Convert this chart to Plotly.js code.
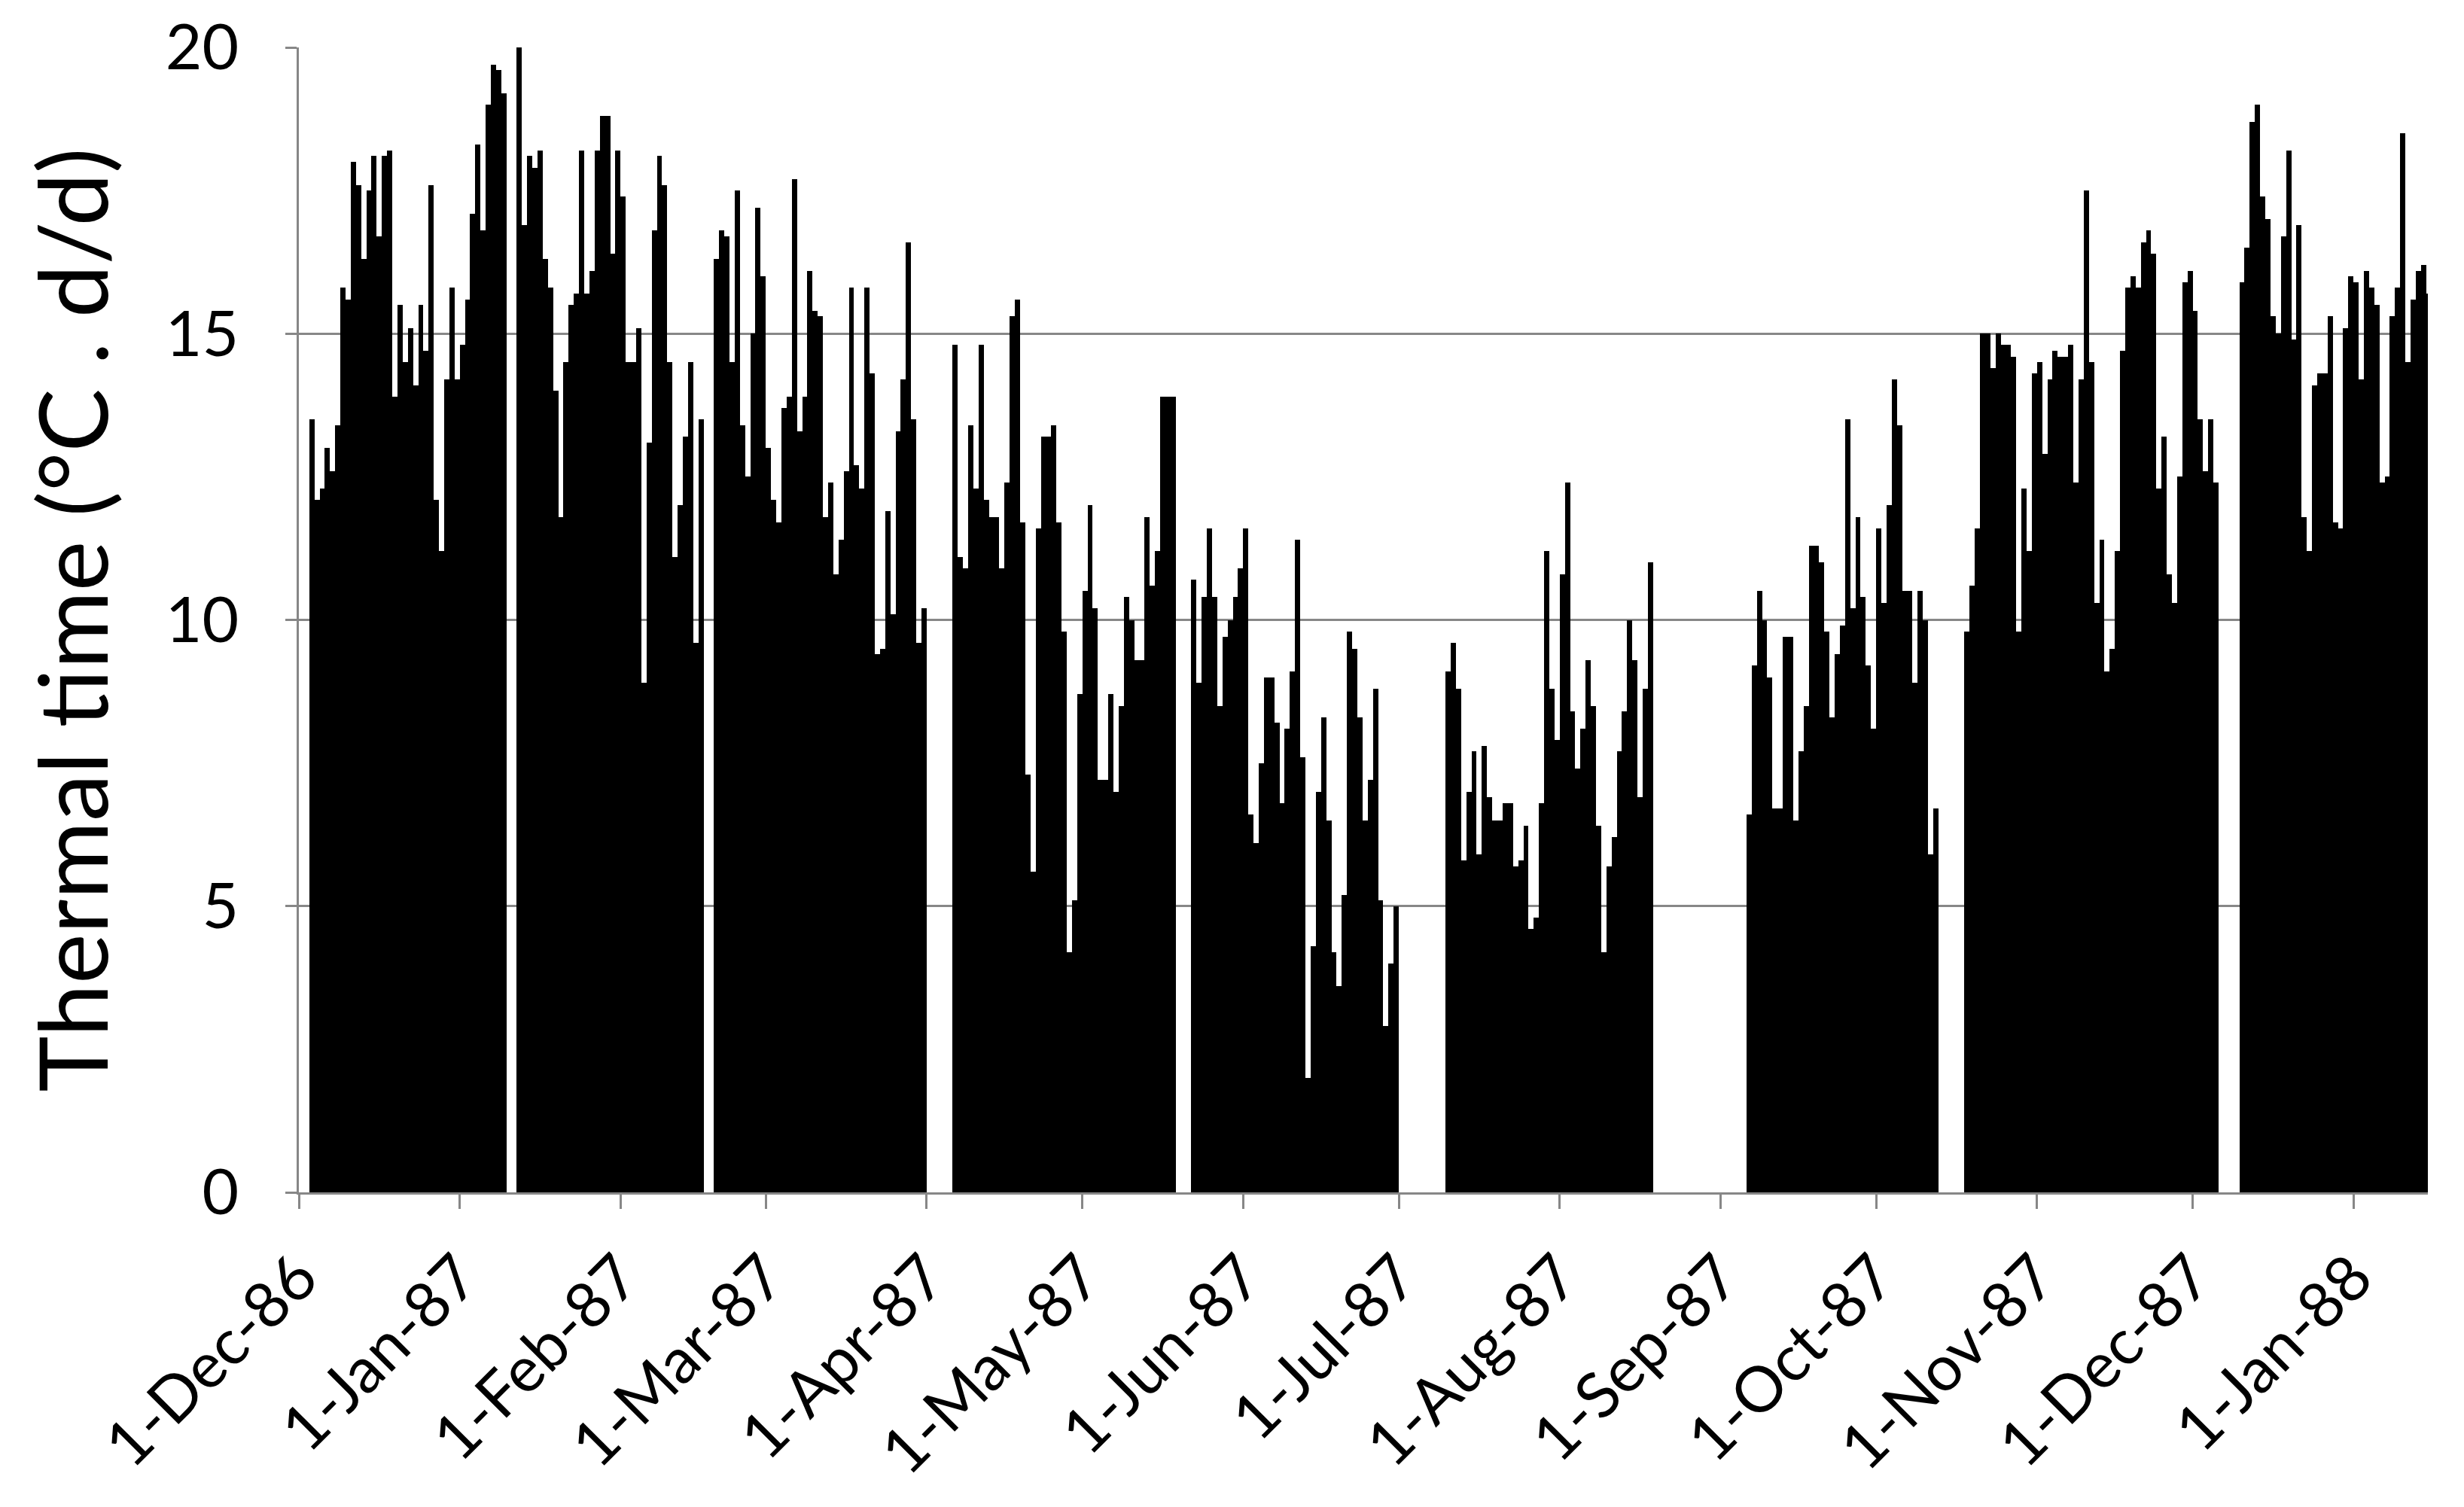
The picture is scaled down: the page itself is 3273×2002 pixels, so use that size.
<!DOCTYPE html>
<html>
<head>
<meta charset="utf-8">
<script src="https://cdn.plot.ly/plotly-3.0.1.min.js"></script>
<style>html,body{margin:0;padding:0;background:#fff}#chart{width:3273px;height:2002px}</style>
</head>
<body>
<div id="chart"></div>
<script>
// daily thermal time (°C . d/d), one entry per calendar day, null = no record
const dec86 = [null, null, 13.5, 12.1, 12.3, 13.0, 12.6, 13.4, 15.8, 15.6, 18.0, 17.6, 16.3, 17.5, 18.1, 16.7,
  18.1, 18.2, 13.9, 15.5, 14.5, 15.1, 14.1, 15.5, 14.7, 17.6, 12.1, 11.2, 14.2, 15.8, 14.2];
const jan87 = [14.8, 15.6, 17.1, 18.3, 16.8, 19.0, 19.7, 19.6, 19.2, null, null, 20.1, 16.9, 18.1, 17.9, 18.2,
  16.3, 15.8, 14.0, 11.8, 14.5, 15.5, 15.7, 18.2, 15.7, 16.1, 18.2, 18.8, 18.8, 16.4, 18.2];
const feb87 = [17.4, 14.5, 14.5, 15.1, 8.9, 13.1, 16.8, 18.1, 17.6, 14.5, 11.1, 12.0, 13.2, 14.5, 9.6, 13.5,
  null, null, 16.3, 16.8, 16.7, 14.5, 17.5, 13.4, 12.5, 15.0, 17.2, 16.0];
const mar87 = [13.0, 12.1, 11.7, 13.7, 13.9, 17.7, 13.3, 13.9, 16.1, 15.4, 15.3, 11.8, 12.4, 10.8, 11.4, 12.6,
  15.8, 12.7, 12.3, 15.8, 14.3, 9.4, 9.5, 11.9, 10.1, 13.3, 14.2, 16.6, 13.5, 9.6, 10.2];
const apr87 = [null, null, null, null, null, 14.8, 11.1, 10.9, 13.4, 12.3, 14.8, 12.1, 11.8, 11.8, 10.9, 12.4,
  15.3, 15.6, 11.7, 7.3, 5.6, 11.6, 13.2, 13.2, 13.4, 11.7, 9.8, 4.2, 5.1, 8.7];
const may87 = [10.5, 12.0, 10.2, 7.2, 7.2, 8.7, 7.0, 8.5, 10.4, 10.0, 9.3, 9.3, 11.8, 10.6, 11.2, 13.9,
  13.9, 13.9, null, null, null, 10.7, 8.9, 10.4, 11.6, 10.4, 8.5, 9.7, 10.0, 10.4, 10.9];
const jun87 = [11.6, 6.6, 6.1, 7.5, 9.0, 9.0, 8.2, 6.8, 8.1, 9.1, 11.4, 7.6, 2.0, 4.3, 7.0, 8.3,
  6.5, 4.2, 3.6, 5.2, 9.8, 9.5, 8.3, 6.5, 7.2, 8.8, 5.1, 2.9, 4.0, 5.0];
const jul87 = [null, null, null, null, null, null, null, null, null, 9.1, 9.6, 8.8, 5.8, 7.0, 7.7, 5.9,
  7.8, 6.9, 6.5, 6.5, 6.8, 6.8, 5.7, 5.8, 6.4, 4.6, 4.8, 6.8, 11.2, 8.8, 7.9];
const aug87 = [10.8, 12.4, 8.4, 7.4, 8.1, 9.3, 8.5, 6.4, 4.2, 5.7, 6.2, 7.7, 8.4, 10.0, 9.3, 6.9,
  8.8, 11.0, null, null, null, null, null, null, null, null, null, null, null, null, null];
const sep87 = [null, null, null, null, null, 6.6, 9.2, 10.5, 10.0, 9.0, 6.7, 6.7, 9.7, 9.7, 6.5, 7.7,
  8.5, 11.3, 11.3, 11.0, 9.8, 8.3, 9.4, 9.9, 13.5, 10.2, 11.8, 10.4, 9.2, 8.1];
const oct87 = [11.6, 10.3, 12.0, 14.2, 13.4, 10.5, 10.5, 8.9, 10.5, 10.0, 5.9, 6.7, null, null, null, null,
  null, 9.8, 10.6, 11.6, 15.0, 15.0, 14.4, 15.0, 14.8, 14.8, 14.6, 9.8, 12.3, 11.2, 14.3];
const nov87 = [14.5, 12.9, 14.2, 14.7, 14.6, 14.6, 14.8, 12.4, 14.2, 17.5, 14.5, 10.3, 11.4, 9.1, 9.5, 11.2,
  14.7, 15.8, 16.0, 15.8, 16.6, 16.8, 16.4, 12.3, 13.2, 10.8, 10.3, 12.5, 15.9, 16.1];
const dec87 = [15.4, 13.5, 12.6, 13.5, 12.4, null, null, null, null, 15.9, 16.5, 18.7, 19.0, 17.4, 17.0, 15.3,
  15.0, 16.7, 18.2, 14.9, 16.9, 11.8, 11.2, 14.1, 14.3, 14.3, 15.3, 11.7, 11.6, 15.1, 16.0];
const jan88 = [15.9, 14.2, 16.1, 15.8, 15.5, 12.4, 12.5, 15.3, 15.8, 18.5, 14.5, 15.6, 16.1, 16.2, 15.7];

const MONTHS = [
  ['1986-12', dec86], ['1987-01', jan87], ['1987-02', feb87], ['1987-03', mar87],
  ['1987-04', apr87], ['1987-05', may87], ['1987-06', jun87], ['1987-07', jul87],
  ['1987-08', aug87], ['1987-09', sep87], ['1987-10', oct87], ['1987-11', nov87],
  ['1987-12', dec87], ['1988-01', jan88],
];

const days = [];
const values = [];
MONTHS.forEach(([ym, vals]) => {
  vals.forEach((v, i) => {
    days.push(`${ym}-${String(i + 1).padStart(2, '0')}`);
    values.push(v);
  });
});

const GRID = '#878787';
const FONT = 'Lato, "Open Sans", sans-serif';

Plotly.newPlot('chart', [{
  type: 'bar',
  x: days,
  y: values,
  xperiod: 86400000,
  xperiodalignment: 'middle',
  marker: { color: '#000000', line: { width: 0 } },
}], {
  width: 3273,
  height: 2002,
  margin: { l: 397, r: 48, t: 63, b: 418 },
  paper_bgcolor: 'white',
  plot_bgcolor: 'white',
  bargap: 0,
  showlegend: false,
  font: { family: FONT, color: '#000000' },
  xaxis: {
    type: 'date',
    range: ['1986-12-01', '1988-01-15 08:00'],
    tick0: '1986-12-01',
    dtick: 'M1',
    tickformat: '%-d-%b-%y',
    tickangle: -45,
    ticks: 'outside', ticklen: 19, tickwidth: 3, tickcolor: GRID,
    showline: true, linecolor: GRID, linewidth: 3,
    showgrid: false, zeroline: false,
    tickfont: { size: 84 },
    ticklabelstandoff: 8,
  },
  yaxis: {
    range: [0, 20],
    dtick: 5,
    ticks: 'outside', ticklen: 15, tickwidth: 3, tickcolor: GRID,
    showline: true, linecolor: GRID, linewidth: 3,
    gridcolor: GRID, gridwidth: 3, zeroline: false,
    tickfont: { size: 84 },
    ticklabelstandoff: 45,
    title: { text: 'Thermal time (°C . d/d)', font: { size: 126 }, standoff: 34 },
  },
}, { staticPlot: true });
</script>
</body>
</html>
